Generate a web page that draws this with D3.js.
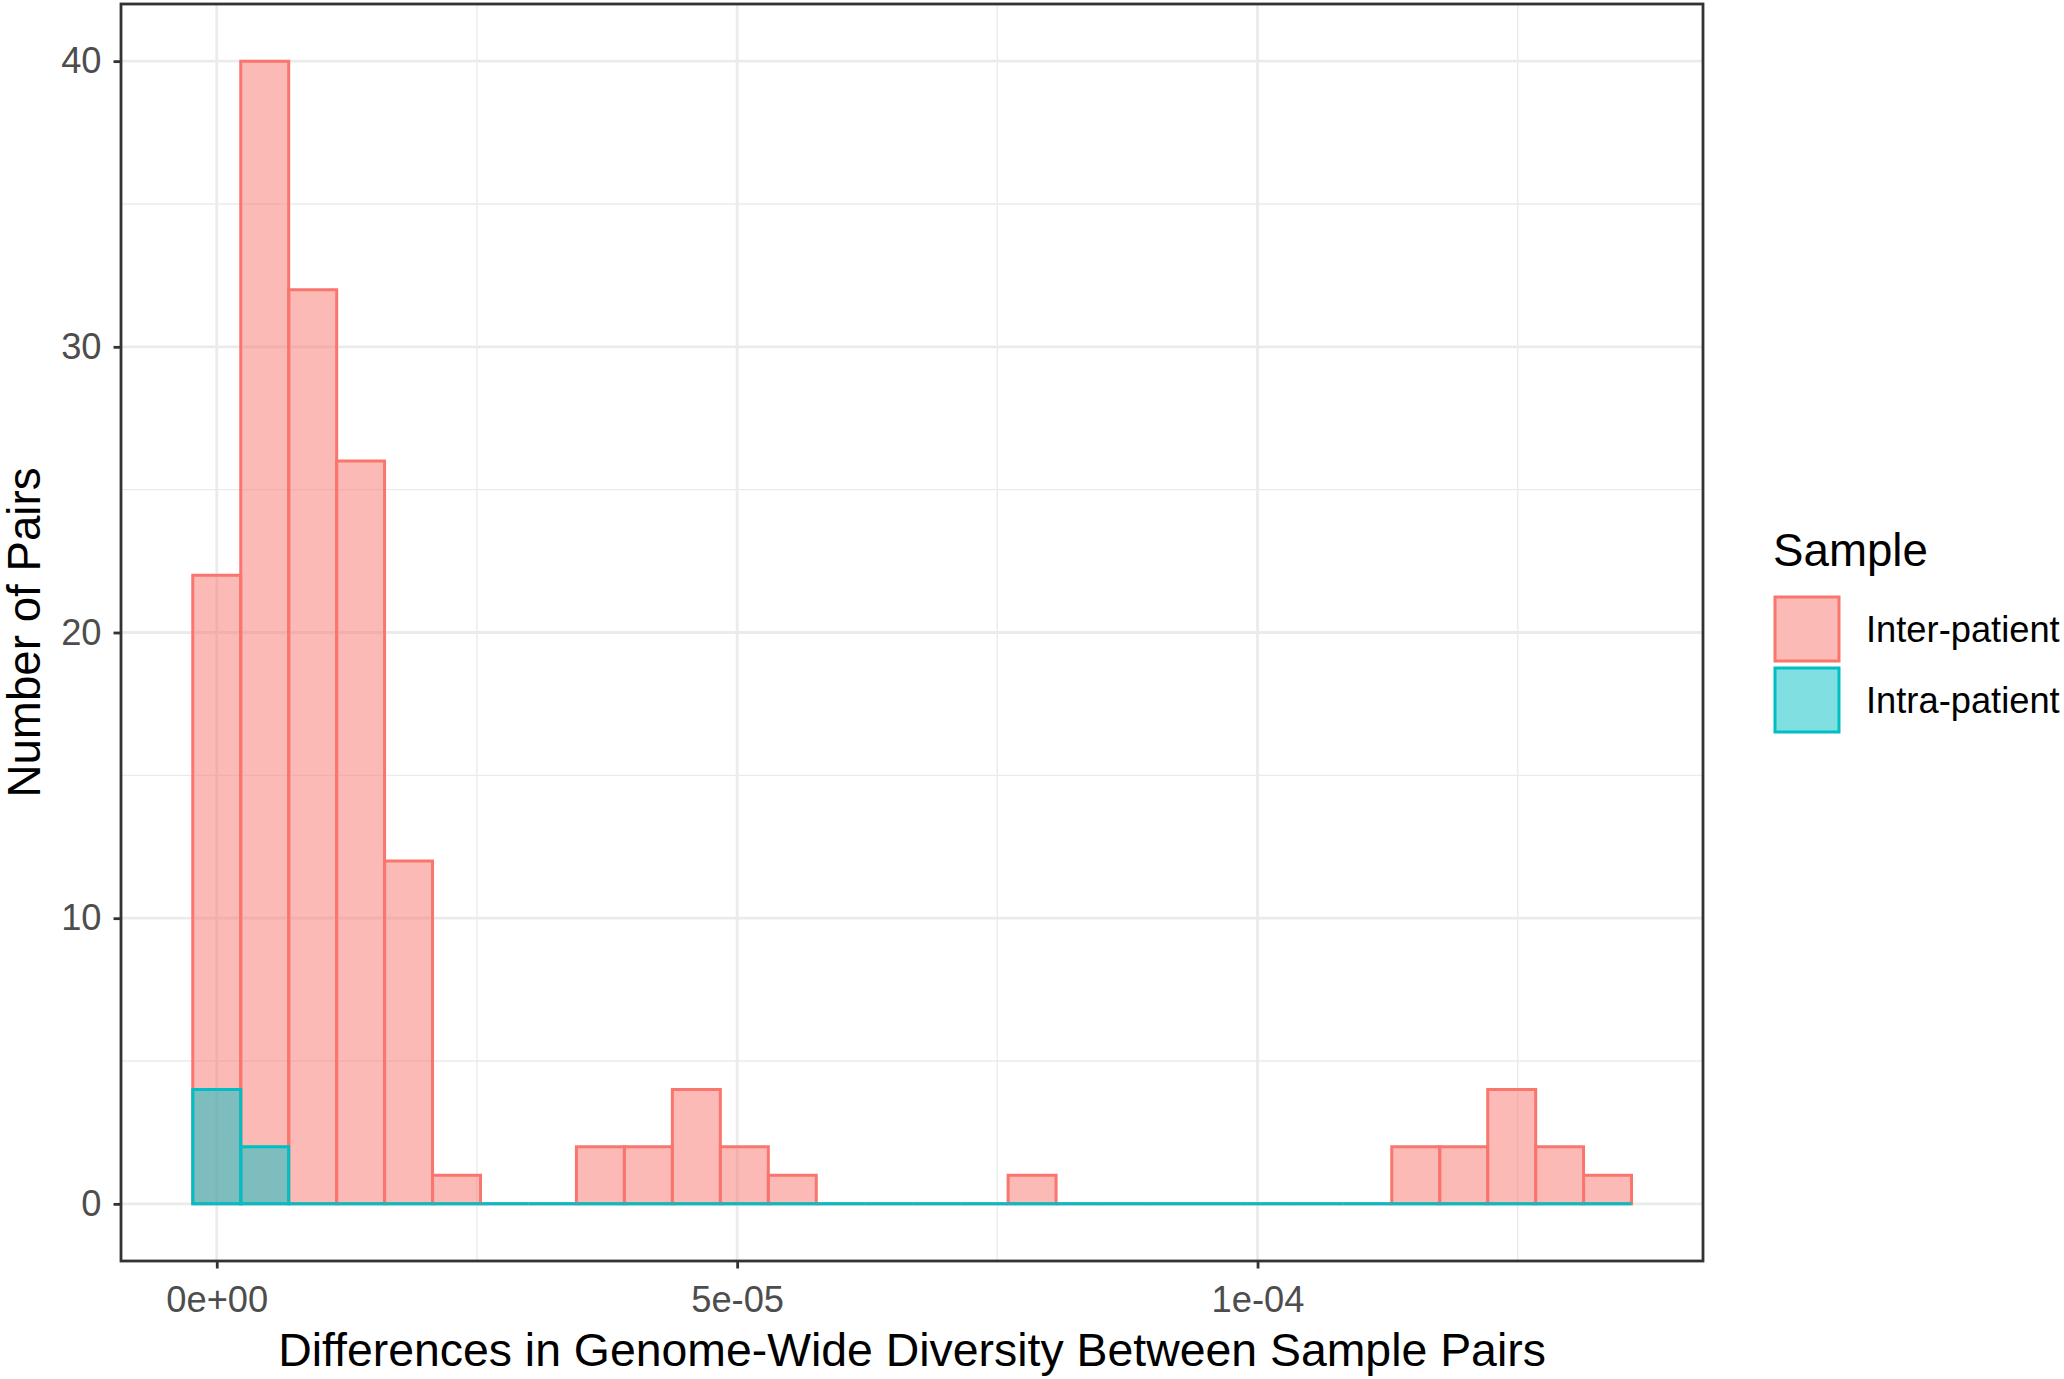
<!DOCTYPE html>
<html>
<head>
<meta charset="utf-8">
<script src="https://cdn.jsdelivr.net/npm/d3@7"></script>
<style>
  body { margin: 0; background: #fff; }
  text { font-family: "Liberation Sans", Arial, sans-serif; }
</style>
</head>
<body>
<svg class="chart" width="2064" height="1379"></svg>
<script>
// bin centres of the histogram (x 1e-6)
const binCentres = [0, 4.61, 9.22, 13.82, 18.43, 23.04, 27.65, 32.26, 36.86, 41.47,
  46.08, 50.69, 55.30, 59.90, 64.51, 69.12, 73.73, 78.34, 82.94, 87.55,
  92.16, 96.77, 101.38, 105.98, 110.59, 115.20, 119.81, 124.42, 129.02, 133.63];
const binWidth = 4.608;

const interCounts = [22, 40, 32, 26, 12, 1, 0, 0, 2, 2, 4, 2, 1, 0, 0,
  0, 0, 1, 0, 0, 0, 0, 0, 0, 0, 2, 2, 4, 2, 1];
const intraCounts = [4, 2, 0, 0, 0, 0, 0, 0, 0, 0, 0, 0, 0, 0, 0,
  0, 0, 0, 0, 0, 0, 0, 0, 0, 0, 0, 0, 0, 0, 0];

const groups = ["Inter-patient", "Intra-patient"];
const colours = ["#F8766D", "#00BFC4"];

const xTicks = [0, 50, 100];
const xTickLabels = ["0e+00", "5e-05", "1e-04"];
const xMinor = [25, 75, 125];
const yTicks = [0, 10, 20, 30, 40];
const yMinor = [5, 15, 25, 35];

// panel box
const pLeft = 121, pRight = 1703, pTop = 4, pBottom = 1261;

const svg = d3.select(".chart");

const xScale = d3.scaleLinear().domain([-9.2, 142.8]).range([pLeft, pRight]);
const yScale = d3.scaleLinear().domain([-2, 42]).range([pBottom, pTop]);

const grid = svg.append("g");

// minor grid
grid.selectAll(".ymin").data(yMinor).enter().append("line")
  .attr("x1", pLeft).attr("x2", pRight)
  .attr("y1", d => yScale(d)).attr("y2", d => yScale(d))
  .attr("stroke", "#EBEBEB").attr("stroke-width", 1.4);
grid.selectAll(".xmin").data(xMinor).enter().append("line")
  .attr("y1", pTop).attr("y2", pBottom)
  .attr("x1", d => xScale(d)).attr("x2", d => xScale(d))
  .attr("stroke", "#EBEBEB").attr("stroke-width", 1.4);

// major grid
grid.selectAll(".ymaj").data(yTicks).enter().append("line")
  .attr("x1", pLeft).attr("x2", pRight)
  .attr("y1", d => yScale(d)).attr("y2", d => yScale(d))
  .attr("stroke", "#EBEBEB").attr("stroke-width", 2.8);
grid.selectAll(".xmaj").data(xTicks).enter().append("line")
  .attr("y1", pTop).attr("y2", pBottom)
  .attr("x1", d => xScale(d)).attr("x2", d => xScale(d))
  .attr("stroke", "#EBEBEB").attr("stroke-width", 2.8);

// bars as closed paths so empty bins still show their outline on the baseline
function barPath(d, i) {
  const x0 = xScale(binCentres[i] - binWidth / 2);
  const x1 = xScale(binCentres[i] + binWidth / 2);
  const y0 = yScale(0), y1 = yScale(d);
  return `M${x0},${y0}H${x1}V${y1}H${x0}Z`;
}

[interCounts, intraCounts].forEach((counts, gi) => {
  svg.append("g")
    .selectAll("path")
    .data(counts)
    .enter()
    .append("path")
    .attr("d", barPath)
    .attr("fill", colours[gi])
    .attr("fill-opacity", 0.5)
    .attr("stroke", colours[gi])
    .attr("stroke-width", 3)
    .attr("stroke-linejoin", "miter");
});

// panel border
svg.append("rect")
  .attr("x", pLeft).attr("y", pTop)
  .attr("width", pRight - pLeft).attr("height", pBottom - pTop)
  .attr("fill", "none").attr("stroke", "#333333").attr("stroke-width", 2.8);

// axes
const yAxis = svg.append("g")
  .attr("transform", `translate(${pLeft}, 0)`)
  .call(d3.axisLeft(yScale).tickValues(yTicks).tickSize(7.5).tickPadding(12));
const xAxis = svg.append("g")
  .attr("transform", `translate(0, ${pBottom})`)
  .call(d3.axisBottom(xScale).tickValues(xTicks).tickSize(7.5).tickPadding(18)
    .tickFormat((d, i) => xTickLabels[i]));

[yAxis, xAxis].forEach(ax => {
  ax.select(".domain").remove();
  ax.selectAll("line").attr("stroke", "#333333").attr("stroke-width", 2.8);
  ax.selectAll("text")
    .attr("fill", "#4D4D4D")
    .style("font-size", "36.3px")
    .style("font-family", "'Liberation Sans', Arial, sans-serif");
});

// axis titles
svg.append("text")
  .attr("x", (pLeft + pRight) / 2)
  .attr("y", 1366)
  .attr("text-anchor", "middle")
  .style("font-size", "46.4px")
  .text("Differences in Genome-Wide Diversity Between Sample Pairs");

svg.append("text")
  .attr("transform", "rotate(-90)")
  .attr("x", -(pTop + pBottom) / 2)
  .attr("y", 40)
  .attr("text-anchor", "middle")
  .style("font-size", "45.7px")
  .text("Number of Pairs");

// legend
const legend = svg.append("g");
legend.append("text")
  .attr("x", 1773)
  .attr("y", 566)
  .style("font-size", "45.7px")
  .text("Sample");

const keys = legend.selectAll(".key")
  .data(groups)
  .enter()
  .append("g")
  .attr("transform", (d, i) => `translate(1775, ${597 + i * 71})`);

keys.append("rect")
  .attr("width", 64)
  .attr("height", 64)
  .attr("fill", (d, i) => colours[i])
  .attr("fill-opacity", 0.5)
  .attr("stroke", (d, i) => colours[i])
  .attr("stroke-width", 3);

keys.append("text")
  .attr("x", 91)
  .attr("y", 45)
  .style("font-size", "36.3px")
  .text(d => d);
</script>
</body>
</html>
